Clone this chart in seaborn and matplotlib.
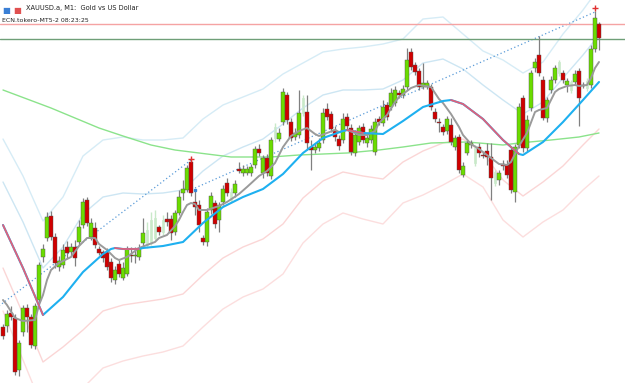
import numpy as np
import pandas as pd
import matplotlib
matplotlib.use("Agg")
import matplotlib.pyplot as plt
import seaborn as sns

# candles (M1 bars), price in chart units
open_ = [73, 74, 87, 82, 30, 68, 92, 83, 54, 100, 143, 162, 184, 163, 133, 135, 153, 148, 153, 158,
         175, 200, 163, 172, 151, 148, 148, 138, 120, 136, 122, 126, 145, 144, 143, 157, 155, 158, 162, 173,
         168, 181, 181, 168, 187, 207, 210, 238, 198, 195, 162, 158, 190, 197, 180, 198, 217, 200, 207, 231,
         227, 227, 227, 235, 251, 227, 242, 224, 262, 261, 278, 305, 278, 263, 265, 287, 288, 253, 250, 252,
         260, 291, 286, 270, 261, 260, 283, 272, 247, 258, 273, 257, 260, 248, 281, 277, 295, 293, 297, 307,
         305, 313, 348, 335, 329, 313, 313, 313, 288, 278, 273, 269, 275, 253, 263, 225, 247, 255, 237, 253,
         245, 249, 243, 217, 220, 236, 235, 250, 208, 255, 302, 252, 292, 332, 345, 320, 282, 310, 320, 327,
         327, 315, 310, 318, 329, 314, 312, 315, 351, 376]
high = [76, 90, 94, 86, 60, 95, 96, 86, 97, 138, 156, 188, 189, 167, 144, 156, 159, 157, 160, 180,
        202, 203, 182, 178, 154, 150, 152, 142, 134, 140, 138, 154, 153, 153, 156, 182, 178, 188, 190, 175,
        185, 188, 185, 190, 210, 220, 235, 240, 210, 200, 165, 192, 208, 200, 198, 215, 222, 212, 220, 238,
        235, 234, 236, 254, 256, 245, 246, 263, 277, 272, 312, 308, 282, 272, 310, 305, 305, 260, 257, 262,
        292, 297, 289, 274, 265, 287, 287, 276, 270, 275, 277, 266, 275, 282, 284, 300, 298, 312, 314, 310,
        315, 352, 352, 338, 332, 337, 320, 316, 292, 282, 276, 284, 282, 265, 266, 238, 260, 260, 255, 257,
        248, 257, 257, 230, 230, 240, 240, 253, 256, 297, 305, 285, 330, 342, 364, 324, 303, 324, 335, 340,
        330, 322, 320, 330, 332, 318, 322, 355, 389, 378]
low = [61, 68, 80, 25, 24, 64, 68, 52, 51, 98, 138, 159, 160, 132, 129, 132, 142, 144, 134, 155,
       172, 174, 160, 152, 145, 138, 130, 118, 116, 123, 120, 124, 138, 137, 140, 154, 152, 155, 160, 165,
       165, 174, 160, 165, 185, 200, 208, 204, 185, 168, 155, 154, 186, 172, 168, 195, 204, 198, 203, 227,
       224, 225, 224, 232, 244, 222, 224, 221, 258, 259, 275, 276, 259, 260, 262, 284, 250, 230, 247, 249,
       257, 280, 268, 259, 250, 257, 270, 245, 244, 255, 257, 253, 257, 245, 275, 274, 280, 290, 294, 302,
       302, 310, 330, 325, 310, 311, 311, 290, 278, 268, 265, 266, 255, 250, 227, 223, 245, 252, 234, 243,
       242, 235, 200, 214, 215, 230, 222, 207, 198, 252, 248, 249, 289, 328, 324, 280, 278, 307, 317, 324,
       317, 308, 307, 315, 274, 312, 309, 312, 348, 350]
close = [64, 86, 83, 28, 57, 92, 83, 55, 94, 135, 151, 183, 163, 137, 139, 150, 147, 153, 142, 173,
         198, 177, 177, 155, 147, 142, 133, 122, 130, 126, 132, 151, 144, 145, 152, 167, 170, 180, 182, 168,
         180, 178, 167, 187, 203, 211, 232, 207, 193, 175, 158, 188, 204, 176, 195, 211, 207, 208, 216, 229,
         231, 231, 233, 251, 247, 242, 227, 260, 273, 267, 308, 280, 262, 267, 287, 302, 257, 250, 253, 257,
         287, 283, 271, 263, 254, 281, 274, 248, 265, 272, 260, 262, 271, 278, 278, 293, 283, 307, 310, 305,
         311, 340, 333, 328, 313, 317, 317, 293, 281, 277, 268, 281, 258, 262, 230, 234, 257, 257, 252, 247,
         244, 243, 222, 228, 227, 234, 225, 210, 253, 293, 252, 280, 327, 338, 327, 282, 300, 320, 332, 338,
         320, 319, 318, 326, 302, 314, 319, 351, 382, 362]
ghost_bars = [36, 37, 38, 40, 57, 68, 75, 118, 123, 139, 142, 146]

# moving averages (bar, value)
fast_bar = [0, 1, 3, 5, 8, 9, 10, 11, 12, 14, 16, 17, 19, 21, 23, 24, 26, 28, 29, 31, 33, 34, 36, 38, 39,
            41, 43, 44, 45, 46, 47, 48, 49, 51, 54, 56, 59, 61, 64, 66, 68, 70, 72, 74, 76, 78, 79, 81, 83,
            84, 86, 88, 89, 91, 93, 94, 96, 98, 99, 102, 104, 107, 109, 110, 112, 114, 115, 117, 119, 120,
            122, 124, 126, 127, 129, 131, 133, 134, 136, 138, 139, 141, 143, 144, 146, 147, 148, 149]
fast_val = [100, 95, 82, 79, 80, 95, 105, 120, 130, 137, 141, 143, 154, 162, 162, 156, 150, 142, 140, 143,
            149, 152, 155, 158, 162, 165, 174, 180, 188, 195, 197, 196, 190, 190, 194, 198, 206, 213, 224,
            229, 237, 253, 264, 269, 272, 266, 264, 267, 270, 268, 270, 267, 265, 265, 269, 277, 285, 298,
            303, 312, 315, 313, 301, 297, 286, 273, 265, 256, 251, 248, 242, 236, 235, 238, 254, 267, 288,
            290, 292, 308, 311, 314, 315, 314, 315, 322, 332, 338]
mid_bar = [0, 5, 10, 15, 20, 25, 27, 28, 30, 34, 35, 40, 45, 50, 55, 60, 65, 70, 75, 80, 85, 86, 90, 95,
           100, 105, 110, 112, 115, 120, 125, 129, 130, 135, 140, 145, 149]
mid_val = [175, 132, 85, 103, 128, 146, 151, 152, 151, 151, 152, 154, 158, 177, 193, 203, 211, 226, 247,
           262, 269, 270, 267, 266, 279, 293, 299, 300, 296, 281, 260, 246, 245, 258, 278, 300, 318]
mid_down = [(0, 10), (28, 34), (86, 90), (112, 129)]
slow_bar = [0, 6, 12, 18, 24, 30, 37, 43, 49, 57, 67, 74, 86, 94, 100, 107, 116, 125, 129, 137, 144, 149]
slow_val = [310, 301, 292, 282, 272, 264, 255, 250, 247, 243, 243, 245, 247, 250, 253, 257, 258, 255,
            257, 260, 263, 267]

# band deviation around the mid MA (1x and 2x)
band_bar = [0, 5, 10, 15, 20, 25, 30, 35, 40, 45, 50, 55, 60, 65, 70, 75, 80, 85, 90, 95, 100, 105, 110,
            115, 120, 125, 130, 135, 140, 145, 149]
band_dev = [43, 46, 47, 50, 58, 57, 56, 54, 53, 52, 52, 51, 50, 50, 50, 45, 43, 41, 43, 45, 41, 44, 42,
            35, 34, 40, 41, 40, 44, 45, 47]

# trend lines and price lines
trend1_bar, trend1_val = [-1, 47], [94, 240]
trend2_bar, trend2_val = [48, 148], [212, 388]
ask_price, bid_price = 376, 361

sns.set_style("white")
fig = plt.figure(figsize=(6.25, 3.83), dpi=100)
ax = fig.add_axes([0, 0, 1, 1])

df = pd.DataFrame({"open": open_, "high": high, "low": low, "close": close})
df["bar"] = np.arange(len(df))
df["ghost"] = df["bar"].isin(ghost_bars)
real = df[~df["ghost"]]
gh = df[df["ghost"]]

mid = pd.Series(mid_val, index=mid_bar)
bands = pd.DataFrame({"bar": band_bar, "dev": band_dev})
bands["mid"] = mid.loc[band_bar].values
for k, c in [(2, "#d6ecf6"), (1, "#cde6f3"), (-1, "#fbd6d6"), (-2, "#fcdede")]:
    sns.lineplot(x=bands["bar"], y=bands["mid"] + k * bands["dev"], ax=ax, color=c, lw=1)

sns.lineplot(x=slow_bar, y=slow_val, ax=ax, color="#8be38b", lw=1)

# trend lines
ax.plot(trend1_bar, trend1_val, color="#5a9bd8", lw=0.9, ls=(0, (1, 2)))
ax.plot(trend2_bar, trend2_val, color="#5a9bd8", lw=0.9, ls=(0, (1, 2)))

ax.axhline(ask_price, color="#f5a3a3", lw=1)
ax.axhline(bid_price, color="#6f9f78", lw=1)

# ghost bars
ax.vlines(gh["bar"], gh["low"], gh["high"], color="#c9e9c9", lw=1)
ax.bar(gh["bar"], (gh["close"] - gh["open"]).abs(), bottom=gh[["open", "close"]].min(axis=1),
       width=0.55, color="#e2f4e2", edgecolor="#c9e9c9", lw=0.5)

# candles
ax.vlines(real["bar"], real["low"], real["high"], color="#808080", lw=0.9, zorder=3)
up = real["close"] >= real["open"]
body = (real["close"] - real["open"]).abs().clip(lower=0.8)
bottom = real[["open", "close"]].min(axis=1)
ax.bar(real["bar"][up], body[up], bottom=bottom[up], width=0.8, color="#6bdc00",
       edgecolor="#505050", lw=0.3, zorder=4)
ax.bar(real["bar"][~up], body[~up], bottom=bottom[~up], width=0.8, color="#d00000",
       edgecolor="#505050", lw=0.3, zorder=4)

# fast and mid MAs
sns.lineplot(x=fast_bar, y=fast_val, ax=ax, color="#9a9a9a", lw=1.4, zorder=5)
sns.lineplot(x=mid.index, y=mid.values, ax=ax, color="#1eb0f0", lw=1.5, zorder=5)
for a, b in mid_down:
    seg = mid[(mid.index >= a) & (mid.index <= b)]
    ax.plot(seg.index, seg.values, color="#e0607a", lw=1.3, zorder=6)

ax.plot(trend1_bar[1], trend1_val[1] + 1, marker="+", color="#e03030", ms=4, mew=1, zorder=7)
ax.plot(trend2_bar[1], trend2_val[1] + 4, marker="+", color="#e03030", ms=4, mew=1, zorder=7)
ax.plot(trend2_bar[0], trend2_val[0] - 2, marker="s", color="#3a8ad8", ms=2, zorder=7)

ax.set_xlim(-0.75, 155.5)
ax.set_ylim(17, 400)
ax.axis("off")

fig.text(0.004, 0.985, "\u25a0", color="#3a7fd5", fontsize=6, va="top")
fig.text(0.022, 0.985, "\u25a0", color="#e05050", fontsize=6, va="top")
fig.text(0.042, 0.987, "XAUUSD.a, M1:  Gold vs US Dollar", fontsize=4.8, va="top", color="#222222")
fig.text(0.004, 0.952, "ECN.tokero-MT5-2 08:23:25", fontsize=4.5, va="top", color="#222222")

fig.savefig("out.png", dpi=100)
